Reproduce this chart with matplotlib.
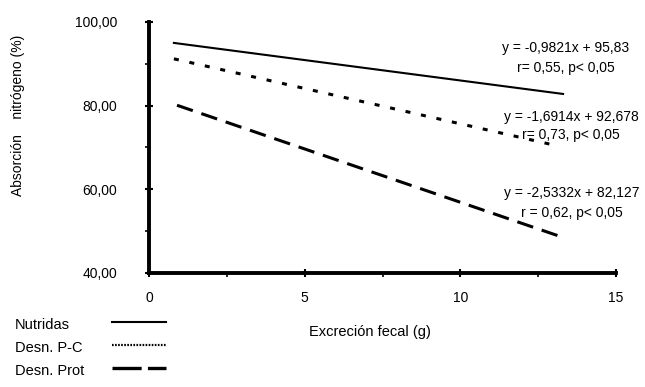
import matplotlib

matplotlib.use("Agg")
import matplotlib.pyplot as plt
from matplotlib.lines import Line2D

plt.rcParams["font.family"] = ["Liberation Sans", "DejaVu Sans"]
plt.rcParams["lines.scale_dashes"] = False

# regression lines (start / end of each fitted line)
nutridas_x = [0.8, 13.3]
nutridas_y = [95.0, 82.8]
pc_x = [0.8, 13.0]
pc_y = [91.2, 70.6]
prot_x = [0.9, 13.3]
prot_y = [80.1, 48.5]

series_names = ["Nutridas", "Desn. P-C", "Desn. Prot"]
equations = [
    ("y = -0,9821x + 95,83", "r= 0,55, p< 0,05"),
    ("y = -1,6914x + 92,678", "r= 0,73, p< 0,05"),
    ("y = -2,5332x + 82,127", "r = 0,62, p< 0,05"),
]
y_ticks = [40, 60, 80, 100]
y_tick_labels = ["40,00", "60,00", "80,00", "100,00"]
x_ticks = [0, 5, 10, 15]

W, H = 645, 387
fig = plt.figure(figsize=(W / 100, H / 100), dpi=100)
ax = fig.add_axes([149 / W, 1 - 273 / H, (616 - 149) / W, (273 - 22) / H])

styles = [
    dict(color="black", lw=1.5, linestyle="-"),
    dict(color="black", lw=2.2, linestyle=(0, (3.6, 7.8))),
    dict(color="black", lw=2.2, linestyle=(0, (12, 6.5))),
]
ax.plot(nutridas_x, nutridas_y, **styles[0])
ax.plot(pc_x, pc_y, **styles[1])
ax.plot(prot_x, prot_y, **styles[2])

ax.set_xlim(0, 15)
ax.set_ylim(40, 100)
ax.set_xticks(x_ticks)
ax.set_xticklabels([str(t) for t in x_ticks])
ax.set_yticks(y_ticks)
ax.set_yticklabels(y_tick_labels)
ax.set_xticks([2.5, 7.5, 12.5], minor=True)
ax.set_yticks([50, 70, 90], minor=True)

for side in ("top", "right"):
    ax.spines[side].set_visible(False)
for side in ("left", "bottom"):
    ax.spines[side].set_linewidth(2.8)
ax.tick_params(axis="both", which="major", direction="inout", length=6, width=1.5,
               labelsize=10)
ax.tick_params(axis="y", which="major", pad=20)
ax.tick_params(axis="x", which="major", pad=10)
ax.tick_params(axis="both", which="minor", direction="out", length=3, width=1.2)

# equations beside the lines
eq_pos = [(566, 48, 68), (571, 117, 135), (572, 193, 213)]
for (eq, rtxt), (cx, y1, y2) in zip(equations, eq_pos):
    fig.text(cx / W, 1 - y1 / H, eq, ha="center", va="center", fontsize=10)
    fig.text(cx / W, 1 - y2 / H, rtxt, ha="center", va="center", fontsize=10)

fig.text(18 / W, 1 - 115 / H, "Absorción    nitrógeno (%)", rotation=90,
         ha="center", va="center", fontsize=10)
fig.text(370 / W, 1 - 332 / H, "Excreción fecal (g)", ha="center", va="center",
         fontsize=10.5)

# legend drawn by hand: labels left, line samples right
leg_styles = [
    dict(color="black", lw=1.5, linestyle="-"),
    dict(color="black", lw=1.6, linestyle=(0, (1.2, 1.0))),
    dict(color="black", lw=2.4, linestyle=(0, (21, 4.5))),
]
leg_rows = [325, 348, 371]
for name, st, yp in zip(series_names, leg_styles, leg_rows):
    fig.text(15 / W, 1 - yp / H, name, ha="left", va="center", fontsize=10.5)
    fig.add_artist(Line2D([112 / W, 166 / W], [1 - (yp - 3) / H] * 2,
                          transform=fig.transFigure, **st))

fig.savefig("out.png", dpi=100)
